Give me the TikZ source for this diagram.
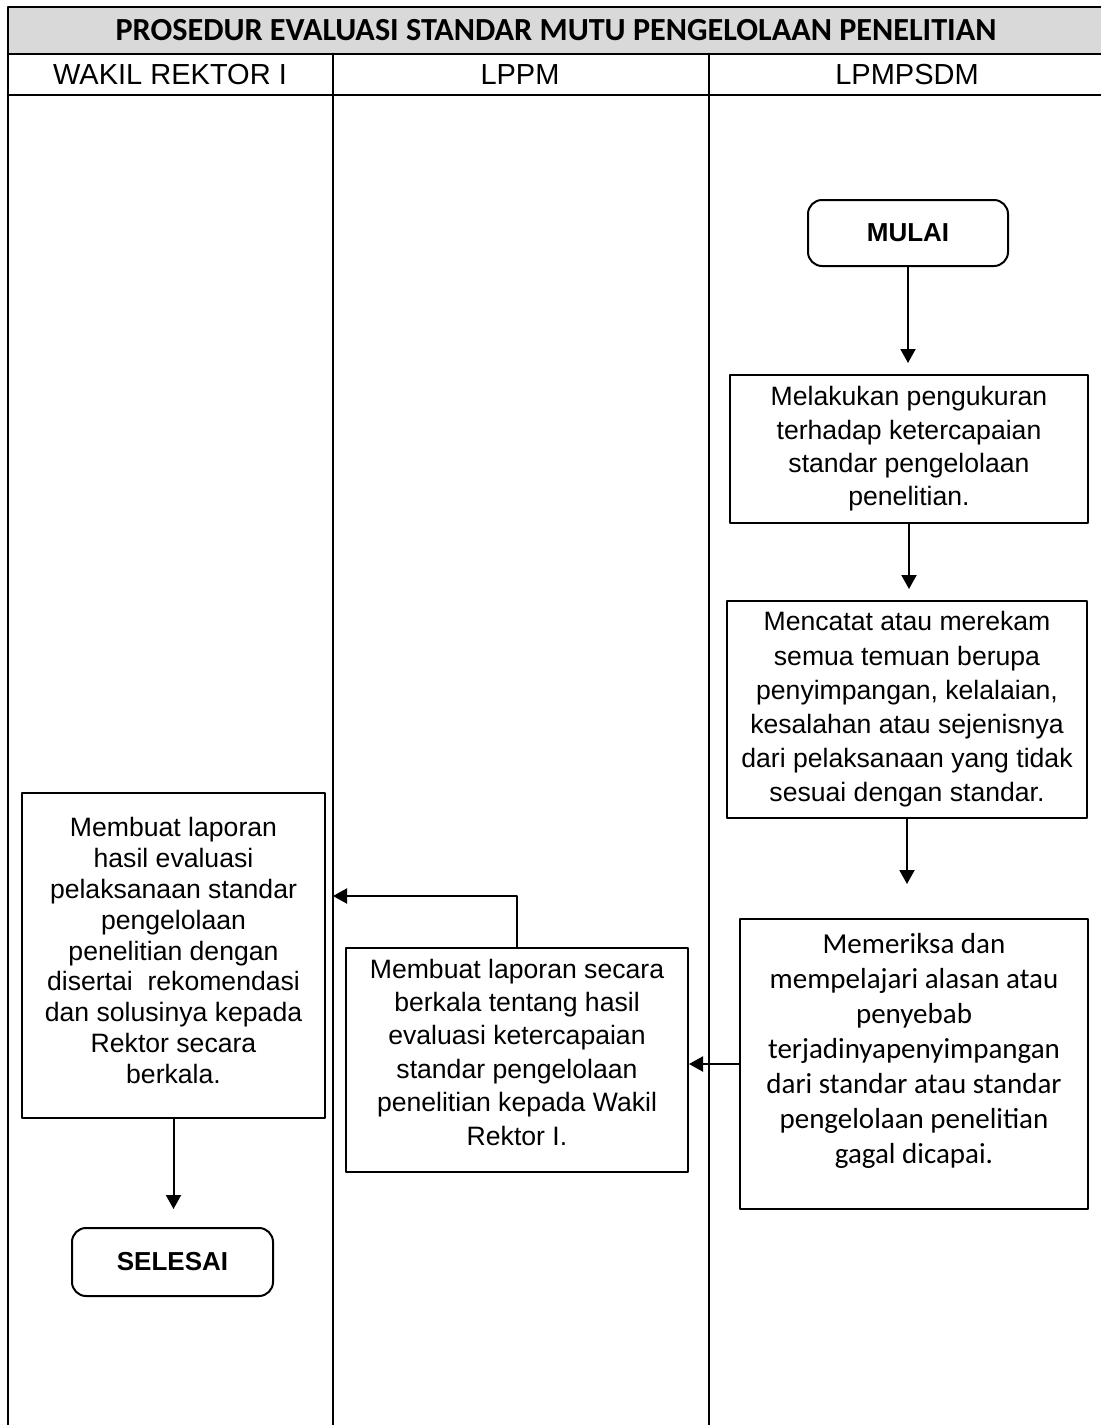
\documentclass[tikz,border=0pt]{standalone}
\usepackage{fontspec}
\setmainfont{Liberation Sans}
\newfontfamily\calibri{Carlito}
\usetikzlibrary{arrows.meta}
\definecolor{headgray}{HTML}{D9D9D9}

\begin{document}
\begin{tikzpicture}[line cap=round,line join=round,>={Triangle[length=7pt,width=7.5pt]},x=0.5pt,y=-0.5pt,
  box/.style={draw,line width=1pt,align=center,inner sep=0pt,font=\fontsize{13.3}{16.7}\selectfont},
  term/.style={draw,line width=1pt,rounded corners=7pt,inner sep=0pt,font=\bfseries\fontsize{13}{15}\selectfont},
  lane/.style={font=\fontsize{14.5}{17}\selectfont},
  flow/.style={->,line width=1pt}]
\useasboundingbox (0,0) rectangle (1101,1425);
% table
\fill[headgray] (8,7) rectangle (1101,54);
\draw[line width=1.3pt] (1101,7) -- (8,7) -- (8,1425);
\foreach \y in {54,95}
\draw[line width=1.3pt] (8,\y) -- (1101,\y);
\foreach \x in {333,709}
\draw[line width=1.3pt] (\x,54) -- (\x,1425);
\node[font=\calibri\bfseries\fontsize{16.1}{18}\selectfont] (judul) at (556,30.5) {PROSEDUR EVALUASI STANDAR MUTU PENGELOLAAN PENELITIAN};
\node[lane] (wakil) at (170,74.5) {WAKIL REKTOR I};
\node[lane] (lppmh) at (520,74.5) {LPPM};
\node[lane] (lpmpsdm) at (907,74.5) {LPMPSDM};
% steps
\node[term,minimum width=100pt,minimum height=33pt] (mulai) at (908,233) {MULAI};
\node[box,minimum width=179pt,minimum height=74pt] (ukur) at (909,449) {Melakukan pengukuran\\terhadap ketercapaian\\standar pengelolaan\\penelitian.};
\node[box,font=\fontsize{13.3}{17.1}\selectfont,minimum width=180pt,minimum height=108.5pt] (catat) at (907,709.5) {Mencatat atau merekam\\semua temuan berupa\\penyimpangan, kelalaian,\\kesalahan atau sejenisnya\\dari pelaksanaan yang tidak\\sesuai dengan standar.};
\node[box,font=\calibri\fontsize{14.5}{17.5}\selectfont,text depth=16pt,minimum width=174pt,minimum height=145pt] (periksa) at (914,1064) {Memeriksa dan\\mempelajari alasan atau\\penyebab\\terjadinyapenyimpangan\\dari standar atau standar\\pengelolaan penelitian\\gagal dicapai.};
\node[box,text depth=8pt,minimum width=171pt,minimum height=112pt] (lppm) at (517,1060) {Membuat laporan secara\\berkala tentang hasil\\evaluasi ketercapaian\\standar pengelolaan\\penelitian kepada Wakil\\Rektor I.};
\node[box,font=\fontsize{13.3}{15.4}\selectfont,text depth=5pt,minimum width=151.5pt,minimum height=162.5pt] (lapor) at (173.5,955.5) {Membuat laporan\\hasil evaluasi\\pelaksanaan standar\\pengelolaan\\penelitian dengan\\disertai~ rekomendasi\\dan solusinya kepada\\Rektor secara\\berkala.};
\node[term,minimum width=100.5pt,minimum height=34pt] (selesai) at (172.5,1262) {SELESAI};
\coordinate (batas) at (333,896);
% connectors
\draw[flow,shorten >=5.5pt] (mulai.south) -- (mulai.south |- ukur.north);
\draw[flow,shorten >=5.5pt] (ukur.south) -- (ukur.south |- catat.north);
\draw[flow,shorten >=17pt] (catat.south) -- (catat.south |- periksa.north);
\draw[flow] (periksa.west) -- (periksa.west -| lppm.east);
\draw[flow] (lppm.north) |- (batas);
\draw[flow,shorten >=9pt] (lapor.south) -- (lapor.south |- selesai.north);
\end{tikzpicture}
\end{document}
